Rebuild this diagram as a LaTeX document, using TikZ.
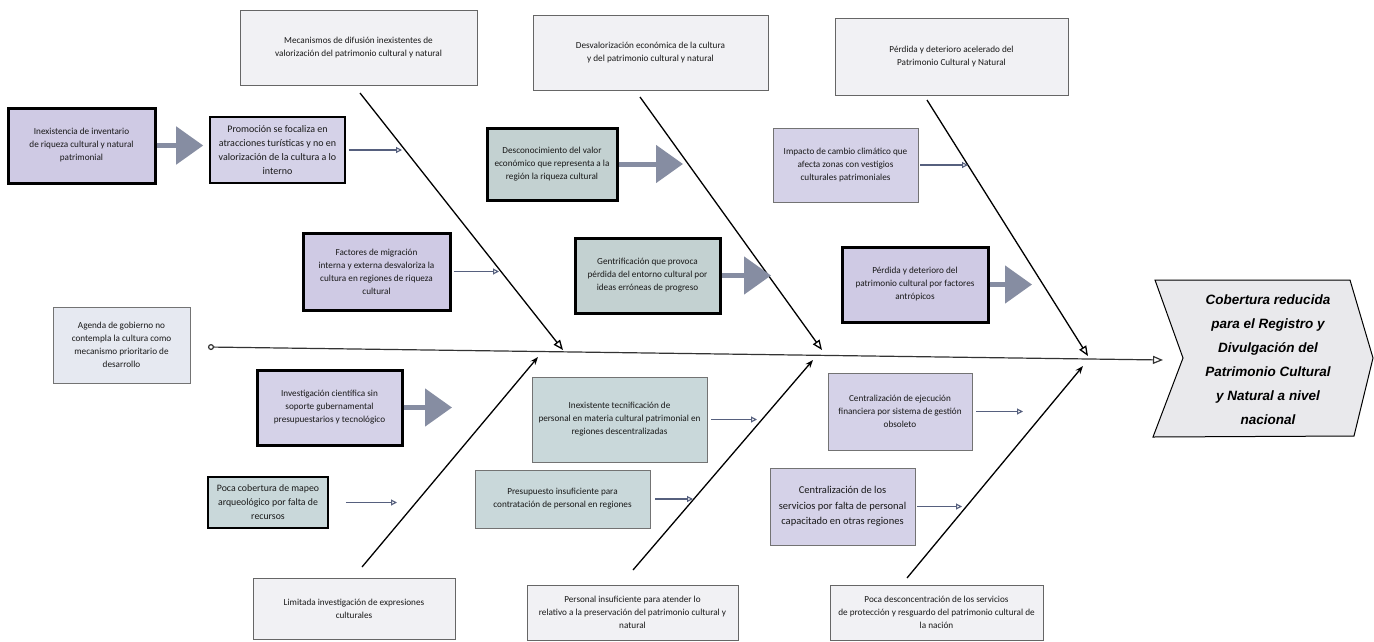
\documentclass[tikz,border=0pt]{standalone}
\usepackage{fontspec}
\setmainfont{Carlito}
\newfontfamily\effont{Liberation Sans}
\usetikzlibrary{arrows.meta,calc}
\definecolor{catf}{HTML}{F1F1F4}
\definecolor{lavf}{HTML}{CFCAE4}
\definecolor{lavl}{HTML}{D5D2E8}
\definecolor{tealf}{HTML}{C3D1D1}
\definecolor{teall}{HTML}{C9D8DA}
\definecolor{agf}{HTML}{E6E9F1}
\definecolor{arrg}{HTML}{868DA2}
\definecolor{thinarr}{HTML}{56607E}
\definecolor{chevf}{HTML}{E9E9EC}
\newcommand\fbx[7][]{%
  \node[#1, minimum width={#5-#3}, minimum height={#6-#4}] (#2) at ({(#3+#5)/2},{(#4+#6)/2}) {#7};}
\begin{document}
\begin{tikzpicture}[x=1pt,y=-1pt,
  base/.style={align=center, inner sep=1pt, text=black!90, font=\fontsize{9.2}{13}\selectfont},
  cat/.style={base, draw=black!60, line width=0.9pt, fill=catf},
  bthick/.style={base, draw=black, line width=3pt},
  bmed/.style={base, draw=black, line width=1.6pt},
  bthin/.style={base, draw=black!55, line width=0.8pt},
  flav/.style={fill=lavf}, flavl/.style={fill=lavl},
  fteal/.style={fill=tealf}, fteall/.style={fill=teall},
  topbone/.style={draw=black, line width=1.3pt, -{Triangle[open,length=10pt,width=8pt]}},
  botbone/.style={draw=black, line width=1.3pt, -{Stealth[length=8pt,width=6pt]}},
  spine/.style={draw=black!80, line width=1.2pt, {Circle[open,length=6pt]}-{Triangle[open,length=10pt,width=8pt]}},
  bigarr/.style={draw=arrg, line width=5pt, -{Triangle[length=27pt,width=37pt,fill=arrg]}},
  smallarr/.style={draw=thinarr, line width=1.1pt, -{Triangle[open,length=6pt,width=6pt]}}
]
\useasboundingbox (0,0) rectangle (1374,641);
\fill[white] (0,0) rectangle (1374,641);

% category boxes
\fbx[cat]{c1}{240}{10}{477}{85}{Mecanismos de difusión inexistentes de\\valorización del patrimonio cultural y natural}
\fbx[cat]{c2}{533}{15}{768}{90}{Desvalorización económica de la cultura\\y del patrimonio cultural y natural}
\fbx[cat]{c3}{835}{18}{1068}{95}{Pérdida y deterioro acelerado del\\Patrimonio Cultural y Natural}
\fbx[cat]{c4}{253}{578}{455}{639}{Limitada investigación de expresiones\\culturales}
\fbx[cat]{c5}{527}{585}{738}{640}{Personal insuficiente para atender lo\\relativo a la preservación del patrimonio cultural y\\natural}
\fbx[cat]{c6}{830}{585}{1043}{640}{Poca desconcentración de los servicios\\de protección y resguardo del patrimonio cultural de\\la nación}

% cause boxes
\fbx[bthick,flav]{inex}{8}{108}{155}{183}{Inexistencia de inventario\\de riqueza cultural y natural\\patrimonial}
\fbx[bmed,flavl,font=\fontsize{10}{14}\selectfont]{promo}{210}{117}{345}{183}{Promoción se focaliza en\\atracciones turísticas y no en\\valorización de la cultura a lo\\interno}
\fbx[bthick,fteal]{desc}{487}{128}{617}{200}{Desconocimiento del valor\\económico que representa a la\\región la riqueza cultural}
\fbx[bthin,flavl]{imp}{773}{128}{918}{202}{Impacto de cambio climático que\\afecta zonas con vestigios\\culturales patrimoniales}
\fbx[bthick,flav]{fact}{303}{233}{450}{310}{Factores de migración\\interna y externa desvaloriza la\\cultura en regiones de riqueza\\cultural}
\fbx[bthick,fteal]{gent}{575}{238}{720}{313}{Gentrificación que provoca\\pérdida del entorno cultural por\\ideas erróneas de progreso}
\fbx[bthick,flav]{perd}{842}{247}{988}{322}{Pérdida y deterioro del\\patrimonio cultural por factores\\antrópicos}
\fbx[bthin,fill=agf]{agen}{53}{307}{190}{383}{Agenda de gobierno no\\contempla la cultura como\\mecanismo prioritario de\\desarrollo}
\fbx[bthick,flavl]{inv}{257}{370}{402}{445}{Investigación científica sin\\soporte gubernamental\\presupuestarios y tecnológico}
\fbx[bmed,fteall,font=\fontsize{9.8}{14}\selectfont]{poca}{208}{477}{328}{528}{Poca cobertura de mapeo\\arqueológico por falta de\\recursos}
\fbx[bthin,fteall]{tecn}{532}{377}{707}{462}{Inexistente tecnificación de\\personal en materia cultural patrimonial en\\regiones descentralizadas}
\fbx[bthin,fteall]{pres}{475}{470}{650}{528}{Presupuesto insuficiente para\\contratación de personal en regiones}
\fbx[bthin,flavl]{cej}{828}{373}{972}{450}{Centralización de ejecución\\financiera por sistema de gestión\\obsoleto}
\fbx[bthin,flavl,font=\fontsize{10.5}{15.5}\selectfont]{cserv}{770}{468}{915}{545}{Centralización de los\\servicios por falta de personal\\capacitado en otras regiones}

% effect chevron
\draw[fill=chevf, line width=1pt] (1155,280) -- (1350,280) -- (1373,358) -- (1354,436) -- (1153,437) -- (1183,358) -- cycle;
\node[align=center, font=\effont\bfseries\itshape\fontsize{13.5}{24}\selectfont] (eff) at (1268,360)
  {Cobertura reducida\\para el Registro y\\Divulgación del\\Patrimonio Cultural\\y Natural a nivel\\nacional};

% spine
\coordinate (tail) at (208,347);
\coordinate (head) at (1163,360);
\draw[spine] (tail) -- (head);

% bones
\coordinate (t1s) at (360,93);  \coordinate (t1e) at (563,350);
\coordinate (t2s) at (640,97);  \coordinate (t2e) at (822,350);
\coordinate (t3s) at (927,100); \coordinate (t3e) at (1088,356);
\coordinate (b1s) at (362,567); \coordinate (b1e) at (538,357);
\coordinate (b2s) at (633,570); \coordinate (b2e) at (813,360);
\coordinate (b3s) at (907,578); \coordinate (b3e) at (1083,366);
\draw[topbone] (t1s) -- (t1e);
\draw[topbone] (t2s) -- (t2e);
\draw[topbone] (t3s) -- (t3e);
\draw[botbone] (b1s) -- (b1e);
\draw[botbone] (b2s) -- (b2e);
\draw[botbone] (b3s) -- (b3e);

% big arrows
\coordinate (ga) at (683,164);
\coordinate (gf) at (771,275.5);
\coordinate (gg) at (1032,284.5);
\coordinate (gh) at (452,407.5);
\draw[bigarr] (inex.east) -- ([xshift=-6pt]inex.east -| promo.west);
\draw[bigarr] (desc.east) -- (ga);
\draw[bigarr] (gent.east) -- (gf);
\draw[bigarr] (perd.east) -- (gg);
\draw[bigarr] (inv.east) -- (gh);

% small arrows
\coordinate (sb) at (402,150);
\coordinate (sd) at (968,165);
\coordinate (se) at (499,271.5);
\coordinate (si) at (397,502.5);
\coordinate (sj) at (757,419.5);
\coordinate (sk) at (693,499);
\coordinate (sl) at (1023,411.5);
\coordinate (sm) at (962,506.5);
\draw[smallarr, shorten <=3pt] (promo.east) -- (sb);
\draw[smallarr, shorten <=2pt] (imp.east) -- (sd);
\draw[smallarr, shorten <=2pt] (fact.east) -- (se);
\draw[smallarr, shorten <=17pt] (poca.east) -- (si);
\draw[smallarr, shorten <=4pt] (tecn.east) -- (sj);
\draw[smallarr, shorten <=5pt] (pres.east) -- (sk);
\draw[smallarr, shorten <=4pt] (cej.east) -- (sl);
\draw[smallarr, shorten <=2pt] (cserv.east) -- (sm);
\end{tikzpicture}
\end{document}
